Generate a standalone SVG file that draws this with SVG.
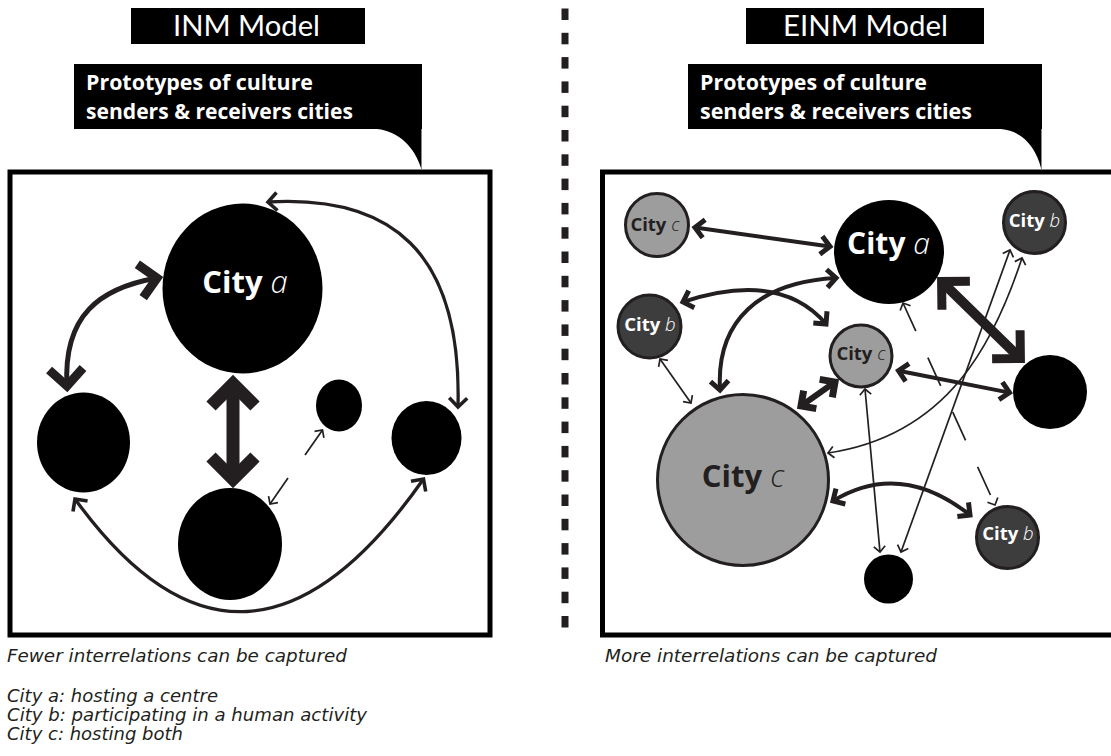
<svg xmlns="http://www.w3.org/2000/svg" width="1111" height="756" viewBox="0 0 1111 756">
<style>
.bg{fill:#fff}
.blk{fill:#000}
.hdr{fill:#fff;font-family:Lato,"DejaVu Sans",sans-serif;font-weight:400;font-size:28px}
.sub{fill:#fff;font-family:"Open Sans","Liberation Sans",sans-serif;font-weight:700;font-size:22px}
.frame{fill:none;stroke:#000;stroke-width:5}
.div{fill:#231f20}
.con{fill:none;stroke:#231f20;stroke-linecap:butt}
.mk{fill:none;stroke:#231f20;stroke-linejoin:miter;stroke-miterlimit:10;stroke-linecap:butt}
.lbl{font-family:"Open Sans","Liberation Sans",sans-serif;font-weight:700;text-anchor:middle}
.it{font-style:italic;font-weight:300}
.w{fill:#fff}
.d{fill:#231f20}
.cc{fill:#9d9d9d;stroke:#231f20;stroke-width:3}
.cb{fill:#3d3d3d;stroke:#231f20;stroke-width:3}
.cap{fill:#231f20;font-family:"DejaVu Sans",sans-serif;font-style:italic;font-size:17px}
</style>
<defs>
<marker id="mXL" markerUnits="userSpaceOnUse" orient="auto-start-reverse" overflow="visible" markerWidth="1" markerHeight="1" refX="0" refY="0"><path class="mk" d="M-22,-22 L0,0 L-22,22" stroke-width="13"/></marker>
<marker id="mR9" markerUnits="userSpaceOnUse" orient="auto-start-reverse" overflow="visible" markerWidth="1" markerHeight="1" refX="0" refY="0"><path class="mk" d="M-20,-20 L0,0 L-20,20" stroke-width="9"/></marker>
<marker id="mL9" markerUnits="userSpaceOnUse" orient="auto-start-reverse" overflow="visible" markerWidth="1" markerHeight="1" refX="0" refY="0"><path class="mk" d="M-17,-17 L0,0 L-17,17" stroke-width="9"/></marker>
<marker id="mM7" markerUnits="userSpaceOnUse" orient="auto-start-reverse" overflow="visible" markerWidth="1" markerHeight="1" refX="0" refY="0"><path class="mk" d="M-11,-11 L0,0 L-11,11" stroke-width="7"/></marker>
<marker id="mM5" markerUnits="userSpaceOnUse" orient="auto-start-reverse" overflow="visible" markerWidth="1" markerHeight="1" refX="0" refY="0"><path class="mk" d="M-9,-9 L0,0 L-9,9" stroke-width="5"/></marker>
<marker id="mS4" markerUnits="userSpaceOnUse" orient="auto-start-reverse" overflow="visible" markerWidth="1" markerHeight="1" refX="0" refY="0"><path class="mk" d="M-9,-9 L0,0 L-9,9" stroke-width="3.6"/></marker>
<marker id="mT" markerUnits="userSpaceOnUse" orient="auto-start-reverse" overflow="visible" markerWidth="1" markerHeight="1" refX="0" refY="0"><path class="mk" d="M-5.7,-5.7 L0,0 L-5.7,5.7" stroke-width="1.7"/></marker>
</defs>
<rect class="bg" x="0" y="0" width="1111" height="756"/>

<g id="header-left">
<rect class="blk" x="131" y="8" width="234" height="36"/>
<text class="hdr" x="173" y="36" textLength="147" lengthAdjust="spacingAndGlyphs">INM Model</text>
<rect class="blk" x="74" y="64" width="348" height="65"/>
<text class="sub" x="86" y="89.5" textLength="227" lengthAdjust="spacingAndGlyphs">Prototypes of culture</text>
<text class="sub" x="86" y="119" textLength="267" lengthAdjust="spacingAndGlyphs">senders &amp; receivers cities</text>
<path class="blk" d="M377,129 C399,131 415,148 421,168 L421,129 Z"/>
<line x1="421.5" y1="129" x2="421.5" y2="169" stroke="#888" stroke-width="1"/>
</g>

<g id="header-right">
<rect class="blk" x="746" y="8" width="238" height="36"/>
<text class="hdr" x="783" y="36" textLength="165" lengthAdjust="spacingAndGlyphs">EINM Model</text>
<rect class="blk" x="688" y="64" width="354" height="65"/>
<text class="sub" x="700" y="89.5" textLength="227" lengthAdjust="spacingAndGlyphs">Prototypes of culture</text>
<text class="sub" x="700" y="119" textLength="272" lengthAdjust="spacingAndGlyphs">senders &amp; receivers cities</text>
<path class="blk" d="M1001,129 C1023,131 1036,148 1041,168 L1041,129 Z"/>
<line x1="1041.5" y1="129" x2="1041.5" y2="169" stroke="#888" stroke-width="1"/>
</g>

<g id="divider">
<rect class="div" x="561.5" y="8.5" width="7" height="11.5"/>
<rect class="div" x="561.5" y="32.8" width="7" height="11.5"/>
<rect class="div" x="561.5" y="57.1" width="7" height="11.5"/>
<rect class="div" x="561.5" y="81.4" width="7" height="11.5"/>
<rect class="div" x="561.5" y="105.7" width="7" height="11.5"/>
<rect class="div" x="561.5" y="130" width="7" height="11.5"/>
<rect class="div" x="561.5" y="154.3" width="7" height="11.5"/>
<rect class="div" x="561.5" y="178.6" width="7" height="11.5"/>
<rect class="div" x="561.5" y="202.9" width="7" height="11.5"/>
<rect class="div" x="561.5" y="227.2" width="7" height="11.5"/>
<rect class="div" x="561.5" y="251.5" width="7" height="11.5"/>
<rect class="div" x="561.5" y="275.8" width="7" height="11.5"/>
<rect class="div" x="561.5" y="300.1" width="7" height="11.5"/>
<rect class="div" x="561.5" y="324.4" width="7" height="11.5"/>
<rect class="div" x="561.5" y="348.7" width="7" height="11.5"/>
<rect class="div" x="561.5" y="373" width="7" height="11.5"/>
<rect class="div" x="561.5" y="397.3" width="7" height="11.5"/>
<rect class="div" x="561.5" y="421.6" width="7" height="11.5"/>
<rect class="div" x="561.5" y="445.9" width="7" height="11.5"/>
<rect class="div" x="561.5" y="470.2" width="7" height="11.5"/>
<rect class="div" x="561.5" y="494.5" width="7" height="11.5"/>
<rect class="div" x="561.5" y="518.8" width="7" height="11.5"/>
<rect class="div" x="561.5" y="543.1" width="7" height="11.5"/>
<rect class="div" x="561.5" y="567.4" width="7" height="11.5"/>
<rect class="div" x="561.5" y="591.7" width="7" height="11.5"/>
<rect class="div" x="561.5" y="616" width="7" height="11.5"/>
</g>

<g id="frames">
<rect class="frame" x="10" y="172" width="480" height="463"/>
<rect class="frame" x="602.5" y="172" width="520" height="463"/>
</g>

<g id="left-nodes">
<g id="L-cityA"><ellipse class="blk" cx="242.5" cy="288.5" rx="80" ry="85"/>
<text class="lbl w" x="245" y="293" font-size="31">City <tspan class="it">a</tspan></text></g>
<g id="L-left"><ellipse class="blk" cx="83.5" cy="442.5" rx="46.5" ry="50"/></g>
<g id="L-bottom"><ellipse class="blk" cx="230" cy="544" rx="52" ry="56"/></g>
<g id="L-small"><ellipse class="blk" cx="339" cy="405.5" rx="23" ry="26"/></g>
<g id="L-right"><ellipse class="blk" cx="426.5" cy="438" rx="35" ry="37"/></g>
</g>

<g id="left-connectors">
<path class="con" stroke-width="5" d="M157,278 C100,288 63,315 67,386" marker-start="url(#mL9)" marker-end="url(#mL9)"/>
<path class="con" stroke-width="13" d="M233,384 L233,479" marker-start="url(#mXL)" marker-end="url(#mXL)"/>
<path class="con" stroke-width="3.3" d="M268,202 C390,195 462,250 458,407" marker-start="url(#mS4)" marker-end="url(#mS4)"/>
<path class="con" stroke-width="3.3" d="M75,499 Q245,734 423.5,479" marker-start="url(#mS4)" marker-end="url(#mS4)"/>
<path class="con" stroke-width="1.7" d="M305,455 L322.5,430" marker-end="url(#mT)"/>
<path class="con" stroke-width="1.7" d="M288,478 L270,504" marker-end="url(#mT)"/>
</g>

<g id="right-connectors">
<path class="con" stroke-width="4" d="M695,227.5 L830,246.5" marker-start="url(#mM5)" marker-end="url(#mM5)"/>
<path class="con" stroke-width="4" d="M683,302 Q780,270 826,324" marker-start="url(#mM5)" marker-end="url(#mM5)"/>
<path class="con" stroke-width="4" d="M836,278 C760,282 716,320 720,390" marker-start="url(#mM5)" marker-end="url(#mM5)"/>
<path class="con" stroke-width="1.7" d="M660,359 L691,403" marker-start="url(#mT)" marker-end="url(#mT)"/>
<path class="con" stroke-width="6" d="M801,406 L835,382" marker-start="url(#mM7)" marker-end="url(#mM7)"/>
<path class="con" stroke-width="10" d="M941.6,281.5 L1020.4,358.5" marker-start="url(#mR9)" marker-end="url(#mR9)"/>
<path class="con" stroke-width="1.7" stroke-dasharray="31 29" d="M903,303 L995,505" marker-start="url(#mT)" marker-end="url(#mT)"/>
<path class="con" stroke-width="4" d="M898.5,370.7 L1009.5,392.6" marker-start="url(#mM5)" marker-end="url(#mM5)"/>
<path class="con" stroke-width="1.7" d="M865,389 L880,552" marker-start="url(#mT)" marker-end="url(#mT)"/>
<path class="con" stroke-width="1.7" d="M1010,250 L901,552" marker-start="url(#mT)" marker-end="url(#mT)"/>
<path class="con" stroke-width="1.7" d="M1022,258 C995,340 950,435 828,453" marker-start="url(#mT)" marker-end="url(#mT)"/>
<path class="con" stroke-width="4" d="M833,501 Q900,460 970,515" marker-start="url(#mM5)" marker-end="url(#mM5)"/>
</g>

<g id="right-nodes">
<g id="R-cityC-tl"><circle class="cc" cx="657" cy="225" r="31.5"/>
<text class="lbl d" x="655" y="231" font-size="18.5">City <tspan class="it">c</tspan></text></g>
<g id="R-cityA"><ellipse class="blk" cx="889" cy="252" rx="55" ry="52"/>
<text class="lbl w" x="888.5" y="254" font-size="30">City <tspan class="it">a</tspan></text></g>
<g id="R-cityB-tr"><circle class="cb" cx="1034.5" cy="222.5" r="31"/>
<text class="lbl w" x="1034.5" y="227" font-size="18.5">City <tspan class="it">b</tspan></text></g>
<g id="R-cityB-l"><circle class="cb" cx="649.5" cy="326.5" r="31.5"/>
<text class="lbl w" x="650" y="331" font-size="18.5">City <tspan class="it">b</tspan></text></g>
<g id="R-cityC-m"><circle class="cc" cx="861" cy="356" r="31"/>
<text class="lbl d" x="861" y="360" font-size="18.5">City <tspan class="it">c</tspan></text></g>
<g id="R-black-r"><circle class="blk" cx="1050" cy="392" r="37"/></g>
<g id="R-cityC-big"><circle class="cc" cx="743" cy="480" r="85.5" stroke-width="4"/>
<text class="lbl d" x="743" y="487" font-size="31">City <tspan class="it">c</tspan></text></g>
<g id="R-cityB-br"><circle class="cb" cx="1007.5" cy="537.5" r="31"/>
<text class="lbl w" x="1008" y="540" font-size="18.5">City <tspan class="it">b</tspan></text></g>
<g id="R-black-s"><circle class="blk" cx="888.5" cy="579" r="24.5"/></g>
</g>

<g id="captions">
<text class="cap" x="7" y="662" textLength="340" lengthAdjust="spacingAndGlyphs">Fewer interrelations can be captured</text>
<text class="cap" x="605" y="662" textLength="332" lengthAdjust="spacingAndGlyphs">More interrelations can be captured</text>
<text class="cap" x="7" y="702" textLength="211" lengthAdjust="spacingAndGlyphs">City a: hosting a centre</text>
<text class="cap" x="7" y="721" textLength="360" lengthAdjust="spacingAndGlyphs">City b: participating in a human activity</text>
<text class="cap" x="7" y="740" textLength="176" lengthAdjust="spacingAndGlyphs">City c: hosting both</text>
</g>
</svg>
